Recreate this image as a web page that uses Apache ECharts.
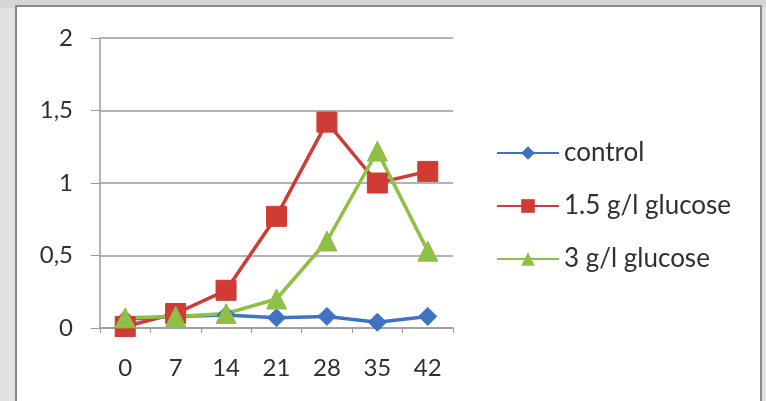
<!DOCTYPE html>
<html><head><meta charset="utf-8">
<script src="https://cdn.jsdelivr.net/npm/echarts@6/dist/echarts.min.js"></script>
<style>html,body{margin:0;padding:0;background:#e2e2e2}#c{width:766px;height:401px}</style>
</head><body><div id="c"></div>
<script>
const categories = ['0','7','14','21','28','35','42'];
const control = [0.06, 0.08, 0.09, 0.07, 0.08, 0.04, 0.08];
const glucose15 = [0.01, 0.10, 0.26, 0.77, 1.42, 1.00, 1.08];
const glucose3 = [0.07, 0.08, 0.10, 0.20, 0.60, 1.22, 0.53];
const yTicks = [0, 0.5, 1, 1.5, 2];

const chart = echarts.init(document.getElementById('c'));
const font = 'Lato, "Open Sans", sans-serif';
function mk(name, data, color, symbol, size) {
  return {name, type:'line', data, symbol, symbolSize:size, showSymbol:true,
    lineStyle:{color, width:3.5}, itemStyle:{color, borderColor:color}, animation:false};
}
chart.setOption({
  backgroundColor:'#e2e2e2',
  animation:false,
  graphic:[
    {type:'rect', shape:{x:0,y:0,width:766,height:8}, style:{fill:'#d6d6d6'}, silent:true, z:-10},
    {type:'rect', shape:{x:16,y:6,width:745,height:397}, style:{fill:'#ffffff', stroke:'#8a8a8a', lineWidth:2}, silent:true, z:-9}
  ],
  grid:{left:100, right:313, top:38, bottom:73},
  legend:{orient:'vertical', left:491, top:135, itemGap:27, itemWidth:62, itemHeight:17,
    textStyle:{fontFamily:font, fontSize:26, color:'#303030'},
    data:['control','1.5 g/l glucose','3 g/l glucose']},
  xAxis:{type:'category', data:categories, boundaryGap:true,
    axisLine:{lineStyle:{color:'#9a9a9a', width:1.5}},
    axisTick:{show:true, length:5, lineStyle:{color:'#9a9a9a'}},
    axisLabel:{fontFamily:font, fontSize:24, color:'#303030', margin:28}},
  yAxis:{type:'value', min:yTicks[0], max:yTicks[yTicks.length-1], interval:0.5,
    axisLine:{show:true, lineStyle:{color:'#9a9a9a', width:1.5}},
    axisTick:{show:true, length:9, inside:false, lineStyle:{color:'#9a9a9a'}},
    splitLine:{show:true, lineStyle:{color:'#9a9a9a', width:1.5}},
    axisLabel:{fontFamily:font, fontSize:24, color:'#303030', margin:27,
      formatter:v=>String(v).replace('.',',')}},
  series:[
    mk('control', control, '#3f72c0', 'diamond', 18),
    mk('1.5 g/l glucose', glucose15, '#cf3b35', 'rect', 20),
    mk('3 g/l glucose', glucose3, '#8fbf45', 'triangle', 20)
  ]
});
</script></body></html>
